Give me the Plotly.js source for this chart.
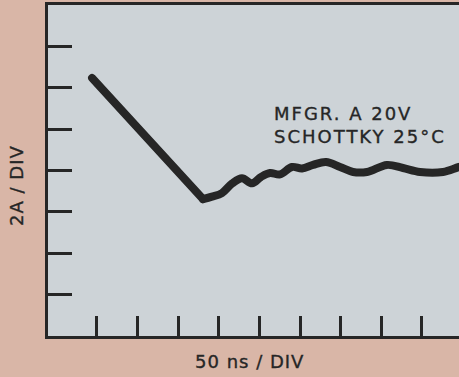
<!DOCTYPE html>
<html>
<head>
<meta charset="utf-8">
<script src="https://cdn.plot.ly/plotly-3.0.1.min.js"></script>
<style>
  html, body { margin: 0; padding: 0; overflow: hidden; background: #d9b6a7; }
  #chart { width: 520px; height: 377px; }
  .scatterlayer .js-line { stroke-linecap: round !important; stroke-linejoin: round !important; }
  .annotation-text { letter-spacing: 1px; stroke: #262626; stroke-width: 0.35px; }
  .annotation[data-index="0"] .annotation-text { letter-spacing: 2px; }
</style>
</head>
<body>
<div id="chart"></div>
<script>
// Time in ns (50 ns/DIV), current in A (2 A/DIV)
const rampTime = [-6, 130.5];
const rampCurrent = [12.47, 6.62];

const ringTime = [130.5, 141.6, 153.9, 166.3, 178.6, 190.9, 202.0, 213.1, 225.4, 240.1, 252.5, 266.0, 282.0, 299.3, 315.3, 332.5, 357.1, 376.8, 397.8, 426.1, 445.8, 460];
const ringCurrent = [6.62, 6.74, 6.91, 7.37, 7.63, 7.38, 7.69, 7.88, 7.81, 8.17, 8.10, 8.27, 8.41, 8.17, 7.93, 7.93, 8.27, 8.12, 7.93, 7.93, 8.17, 8.3];

const xTicks = [0, 50, 100, 150, 200, 250, 300, 350, 400, 450];
const yTicks = [2, 4, 6, 8, 10, 12, 14];

const noteLines = ["MFGR. A 20V", "SCHOTTKY 25°C"];
const xLabel = "50 ns / DIV";
const yLabel = "2A / DIV";

const ink = '#262626';
const lineStyle = {color: ink, width: 8};

const traces = [
  {x: rampTime, y: rampCurrent, mode: 'lines', line: Object.assign({shape: 'linear'}, lineStyle), hoverinfo: 'skip', showlegend: false},
  {x: ringTime, y: ringCurrent, mode: 'lines', line: Object.assign({shape: 'spline', smoothing: 1}, lineStyle), hoverinfo: 'skip', showlegend: false}
];

const font = {family: 'DejaVu Sans, sans-serif', color: ink};

const layout = {
  width: 520, height: 377,
  margin: {l: 48, r: 0, t: 5, b: 41, autoexpand: false},
  paper_bgcolor: '#d9b6a7',
  plot_bgcolor: '#cdd3d7',
  showlegend: false,
  xaxis: {
    range: [-60.3, 520.9], showgrid: false, zeroline: false,
    showline: true, linewidth: 3, linecolor: ink, mirror: true,
    ticks: 'inside', ticklen: 20, tickwidth: 3, tickcolor: ink,
    tickmode: 'array', tickvals: xTicks, showticklabels: false, fixedrange: true
  },
  yaxis: {
    range: [0, 16], showgrid: false, zeroline: false,
    showline: true, linewidth: 3, linecolor: ink, mirror: true,
    ticks: 'inside', ticklen: 24, tickwidth: 3, tickcolor: ink,
    tickmode: 'array', tickvals: yTicks, showticklabels: false, fixedrange: true
  },
  annotations: [
    {text: noteLines.join('<br>'), xref: 'paper', yref: 'paper', x: (272 - 48) / 472, y: (336 - 125) / 331,
     xanchor: 'left', yanchor: 'middle', align: 'left', showarrow: false,
     font: Object.assign({size: 18}, font)},
    {text: xLabel, xref: 'paper', yref: 'paper', x: (249 - 48) / 472, y: (336 - 361) / 331,
     xanchor: 'center', yanchor: 'middle', showarrow: false,
     font: Object.assign({size: 18}, font)},
    {text: yLabel, xref: 'paper', yref: 'paper', x: (16 - 48) / 472, y: (336 - 186) / 331,
     xanchor: 'center', yanchor: 'middle', textangle: -90, showarrow: false,
     font: Object.assign({size: 18}, font)}
  ]
};

Plotly.newPlot('chart', traces, layout, {staticPlot: true, displayModeBar: false});
</script>
</body>
</html>
